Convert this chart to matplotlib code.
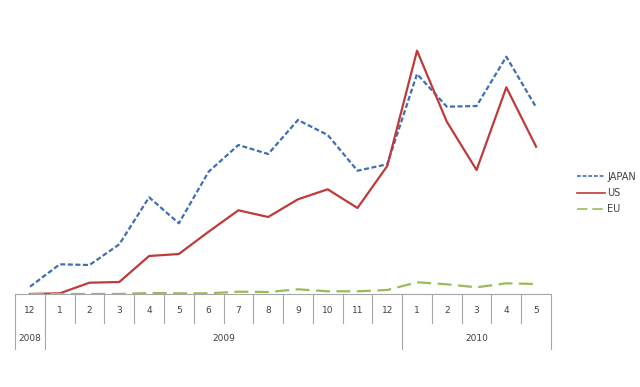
import matplotlib
matplotlib.use("Agg")
import matplotlib.pyplot as plt

months = ["12", "1", "2", "3", "4", "5", "6", "7", "8", "9", "10", "11", "12",
          "1", "2", "3", "4", "5"]
years = ["2008", "2009", "2010"]
year_spans = [1, 12, 5]

japan = [7.3, 29.7, 29, 49.7, 96.7, 70.7, 122.3, 149, 140, 174, 159, 123.3,
         129.7, 220, 187.3, 188, 237.3, 186.7]
us = [0, 0.7, 11.3, 12, 38, 40, 62.3, 83.7, 77, 94.7, 104.7, 86, 128,
      243.3, 172.3, 124, 206.7, 147.3]
eu = [0, 0, 0, 0, 1, 0.7, 0.7, 2.3, 2, 4.7, 2.7, 2.7, 4, 11.7, 9.7, 6.7,
      10.7, 10]

W, H = 640, 387
fig = plt.figure(figsize=(W / 100, H / 100), dpi=100)

left_px, right_px = 15.1, 551.0
base_px = 294.0
ax = fig.add_axes([left_px / W, 1 - base_px / H, (right_px - left_px) / W, base_px / H])
n = len(months)
x = list(range(n))
ax.set_xlim(-0.5, n - 0.5)
ax.set_ylim(0, 294)
ax.axis("off")

lw = 1.6
l1, = ax.plot(x, japan, color="#3F6FB3", lw=lw, dashes=(2.25, 1.15), label="JAPAN")
l2, = ax.plot(x, us, color="#BF3A3A", lw=lw, label="US")
l3, = ax.plot(x, eu, color="#9BBB59", lw=lw, dashes=(6.3, 2.9), label="EU")

# table axes
tab_bottom_px = 349.3
tax = fig.add_axes([left_px / W, 1 - tab_bottom_px / H, (right_px - left_px) / W,
                    (tab_bottom_px - base_px) / H])
tax.set_xlim(-0.5, n - 0.5)
tax.set_ylim(0, 1)
tax.axis("off")
gc = "#A6A6A6"
tlw = 0.8
month_tick_bottom = (tab_bottom_px - 322.7) / (tab_bottom_px - base_px)
tax.plot([-0.5, n - 0.5], [1, 1], color=gc, lw=tlw, clip_on=False)
boundaries = [-0.5]
acc = -0.5
for s in year_spans:
    acc += s
    boundaries.append(acc)
for i in range(n + 1):
    b = i - 0.5
    ybot = 0 if b in boundaries else month_tick_bottom
    tax.plot([b, b], [1, ybot], color=gc, lw=tlw, clip_on=False)
for i, m in enumerate(months):
    tax.text(i, 0.70, m, ha="center", va="center", fontsize=6.5, color="#404040")
for k, yname in enumerate(years):
    c = (boundaries[k] + boundaries[k + 1]) / 2
    tax.text(c, 0.19, yname, ha="center", va="center", fontsize=6.5, color="#404040")

leg = fig.legend(handles=[l1, l2, l3], loc="center left",
                 bbox_to_anchor=(577 / W, 1 - 193 / H), frameon=False, fontsize=7,
                 handlelength=2.9, handletextpad=0.2, labelspacing=0.65,
                 borderpad=0, borderaxespad=0, labelcolor="#404040")
for h in leg.legend_handles:
    h.set_linewidth(1.2)

fig.savefig("out.png", dpi=100)
